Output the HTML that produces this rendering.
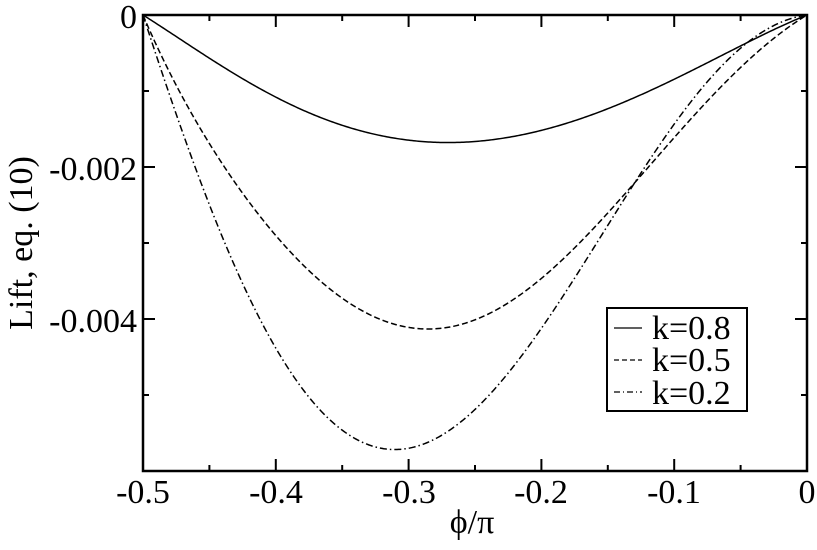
<!DOCTYPE html>
<html><head><meta charset="utf-8"><style>
body{margin:0;background:#fff}
text{font-family:"Liberation Serif","Times New Roman",Times,serif;fill:#000}
</style></head><body>
<svg id="s" width="817" height="545" viewBox="0 0 817 545" xmlns="http://www.w3.org/2000/svg" font-family="Liberation Serif, Times New Roman, serif">
<defs><clipPath id="cp"><rect x="143" y="15" width="664" height="456"/></clipPath></defs>
<rect width="817" height="545" fill="#fff"/>
<g id="ticks" stroke="#000" stroke-width="2"></g>
<g id="curves" fill="none" stroke="#000" stroke-width="1.5" clip-path="url(#cp)"></g>
<rect x="143" y="15" width="664" height="456" fill="none" stroke="#000" stroke-width="2.5"/>
<g font-size="34" font-family="Liberation Serif, serif">
<text x="137" y="28" text-anchor="end">0</text>
<text x="137" y="180" text-anchor="end">-0.002</text>
<text x="137" y="332" text-anchor="end">-0.004</text>
<text x="143" y="503" text-anchor="middle">-0.5</text>
<text x="276" y="503" text-anchor="middle">-0.4</text>
<text x="409" y="503" text-anchor="middle">-0.3</text>
<text x="541" y="503" text-anchor="middle">-0.2</text>
<text x="674" y="503" text-anchor="middle">-0.1</text>
<text x="807" y="503" text-anchor="middle">0</text>
<text x="472" y="533" text-anchor="middle">ϕ/π</text>
<text transform="translate(32,243) rotate(-90)" text-anchor="middle">Lift, eq. (10)</text>
</g>
<rect x="607" y="308" width="140" height="103" fill="#fff" stroke="#000" stroke-width="2"/>
<g stroke="#000" stroke-width="1.3">
<line x1="614" y1="328" x2="642" y2="328"/>
<line x1="614" y1="360" x2="642" y2="360" stroke-dasharray="5,3"/>
<line x1="614" y1="392" x2="642" y2="392" stroke-dasharray="6,3,1,3"/>
</g>
<g font-size="34" font-family="Liberation Serif, serif">
<text x="652" y="339">k=0.8</text>
<text x="652" y="371">k=0.5</text>
<text x="652" y="404">k=0.2</text>
</g>
</svg>
<script>
var t=document.getElementById("ticks"),s="";
for(var i=0;i<=10;i++){var x=143+i*66.4,L=i%2?6:12;
s+='<line x1="'+x+'" y1="471" x2="'+x+'" y2="'+(471-L)+'"/><line x1="'+x+'" y1="15" x2="'+x+'" y2="'+(15+L)+'"/>';}
for(var j=0;j<=5;j++){var y=15+j*76,L=j%2?6:12;
s+='<line x1="143" y1="'+y+'" x2="'+(143+L)+'" y2="'+y+'"/><line x1="807" y1="'+y+'" x2="'+(807-L)+'" y2="'+y+'"/>';}
t.innerHTML=s;
function fit(pts,deg){var n=deg+1,A=[],b=[];for(var i=0;i<n;i++){A.push(new Array(n).fill(0));b.push(0);}
pts.forEach(function(p){var tt=(p[0]-143)/664,u=1-tt,w=tt*u,v=p[1]-15;if(w<=0)return;
var phi=[];for(var k=0;k<n;k++)phi.push(w*Math.pow(tt,k));
for(var r=0;r<n;r++){b[r]+=phi[r]*v;for(var c=0;c<n;c++)A[r][c]+=phi[r]*phi[c];}});
for(var r=0;r<n;r++){for(var q=r+1;q<n;q++){var f=A[q][r]/A[r][r];for(var c=r;c<n;c++)A[q][c]-=f*A[r][c];b[q]-=f*b[r];}}
var co=new Array(n);for(var r=n-1;r>=0;r--){var sm=b[r];for(var c=r+1;c<n;c++)sm-=A[r][c]*co[c];co[r]=sm/A[r][r];}
var d="";for(var k=0;k<=400;k++){var tt=k/400,u=1-tt,P=0;for(var m=0;m<n;m++)P+=co[m]*Math.pow(tt,m);
d+=(k?"L":"M")+(143+tt*664).toFixed(2)+","+Math.max(15,15+tt*u*P).toFixed(2);}return d;}
var c=[
[[[173,35],[277,97],[340,125],[407,140],[447,143],[480,141],[547,128],[613,107],[680,77],[747,42],[780,27]],"",4],
[[[160,50],[173,77],[240,197],[287,243],[340,293],[390,325],[423,333],[440,330],[473,318],[507,303],[540,280],[547,270],[613,210],[653,163],[713,93],[763,47],[785,31],[797,22]],"6,3",5],
[[[160,66],[173,103],[207,197],[240,283],[273,343],[307,393],[357,437],[407,448],[440,440],[473,413],[507,370],[540,333],[580,282],[597,223],[653,163],[697,93],[747,42],[763,31],[785,21],[797,17]],"7,3,1.5,3",5]];
var g=document.getElementById("curves"),h="";
c.forEach(function(a){h+='<path d="'+fit(a[0],a[2])+'"'+(a[1]?' stroke-dasharray="'+a[1]+'"':'')+'/>';});
g.innerHTML=h;
</script>
</body></html>
